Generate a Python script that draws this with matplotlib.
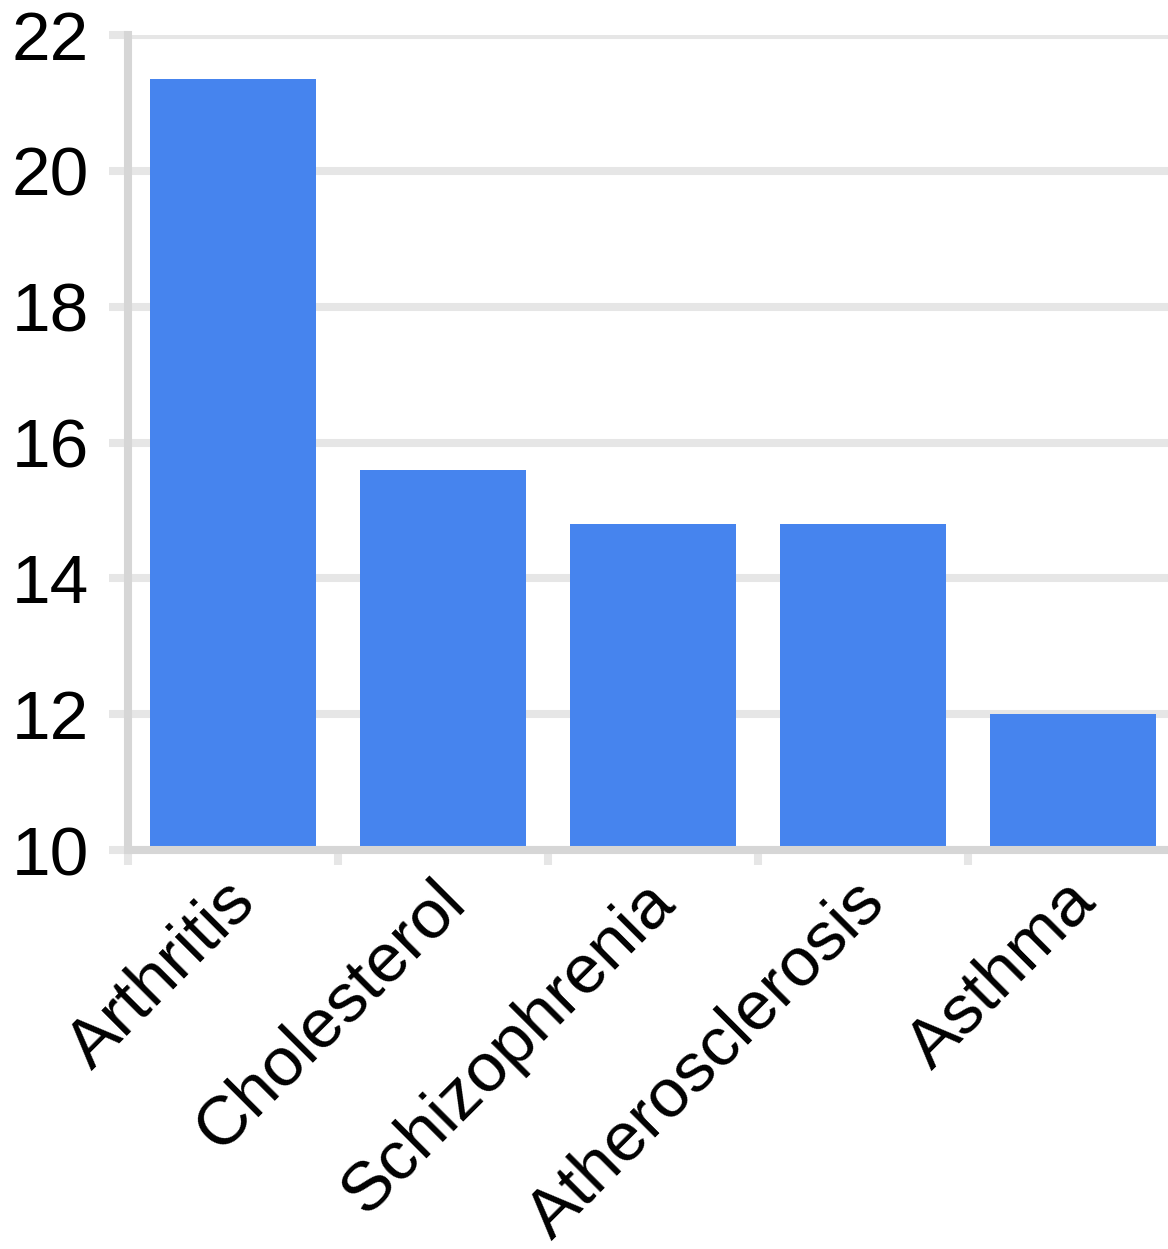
import matplotlib.pyplot as plt
from matplotlib.ticker import FixedLocator
from matplotlib.transforms import ScaledTranslation

diseases = ['Arthritis', 'Cholesterol', 'Schizophrenia', 'Atherosclerosis', 'Asthma']
values = [21.35, 15.6, 14.8, 14.8, 12.0]
yticks = [10, 12, 14, 16, 18, 20, 22]

plt.rcParams['font.family'] = ['Liberation Sans', 'DejaVu Sans']

fig = plt.figure(figsize=(11.68, 12.49), dpi=100)
# axes runs slightly past the right edge, like the original
ax = fig.add_axes([128 / 1168, 1 - 850 / 1249, 1050 / 1168, (850 - 35) / 1249])

x = list(range(len(diseases)))
ax.bar(x, values, width=0.795, color='#4684ee', zorder=3)

ax.set_xlim(-0.5, len(diseases) - 0.5)
ax.set_ylim(10, 22)
ax.set_yticks(yticks)
ax.yaxis.grid(True, color='#e6e6e6', linewidth=5.8, zorder=0)
ax.set_axisbelow(True)

for s in ['top', 'right']:
    ax.spines[s].set_visible(False)
for s in ['left', 'bottom']:
    ax.spines[s].set_color('#d6d6d6')
    ax.spines[s].set_linewidth(5.8)
    ax.spines[s].set_zorder(4)
ax.spines['bottom'].set_capstyle('butt')

ax.tick_params(axis='y', length=14, width=5.8, color='#e6e6e6',
               labelsize=50, pad=14, labelcolor='black')

ax.set_xticks(x)
ax.set_xticklabels(diseases, rotation=45, ha='right', va='center',
                   rotation_mode='anchor', fontsize=50)
ax.tick_params(axis='x', which='major', length=0, pad=30)
shift = ScaledTranslation(12 / 100, 0, fig.dpi_scale_trans)
for lab in ax.get_xticklabels():
    lab.set_transform(lab.get_transform() + shift)
ax.xaxis.set_minor_locator(FixedLocator([i - 0.5 for i in range(len(diseases) + 1)]))
ax.tick_params(axis='x', which='minor', length=11, width=5.8, color='#e6e6e6')

fig.savefig('out.png', dpi=100)
